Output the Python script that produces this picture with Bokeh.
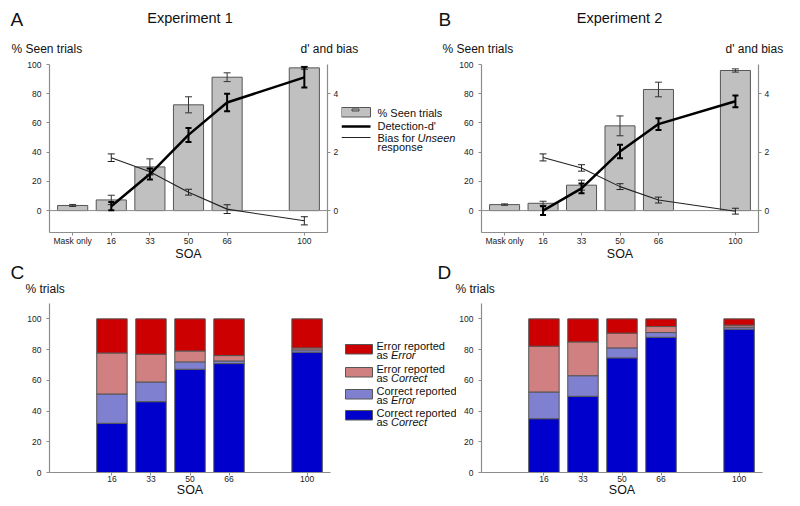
from bokeh.plotting import figure
from bokeh.models import (Range1d, LinearAxis, FixedTicker, ColumnDataSource, Whisker, TeeHead, Span)
from bokeh.core.properties import value
from bokeh.layouts import row, column
from bokeh.embed import file_html
from bokeh.resources import INLINE

FONT = "Liberation Sans"

# ---------------- data ----------------
soa_labels = ["Mask only", "16", "33", "50", "66", "100"]

# Experiment 1 (% seen for all SOAs incl. mask only; d' and bias for SOA 16..100)
exp1_seen = [3.5, 7.3, 29.9, 72.4, 91.3, 97.7]
exp1_seen_err = [0.7, 3.2, 5.5, 5.5, 3.0, 1.0]
exp1_dprime = [0.15, 1.25, 2.59, 3.70, 4.56]
exp1_dprime_err = [0.14, 0.19, 0.24, 0.30, 0.35]
exp1_bias = [1.81, 1.33, 0.63, 0.05, -0.35]
exp1_bias_err = [0.13, 0.10, 0.10, 0.15, 0.14]

# Experiment 2
exp2_seen = [4.1, 5.0, 17.4, 58.0, 82.9, 95.9]
exp2_seen_err = [0.5, 1.4, 3.4, 6.8, 5.0, 1.1]
exp2_dprime = [0.0, 0.76, 2.02, 2.96, 3.74]
exp2_dprime_err = [0.15, 0.17, 0.23, 0.20, 0.20]
exp2_bias = [1.82, 1.46, 0.82, 0.36, -0.02]
exp2_bias_err = [0.12, 0.11, 0.10, 0.10, 0.10]

# % trials, SOA 16..100 (stacked bottom to top)
stack_keys = ["cc", "ce", "ec", "ee"]
exp1_cc = [32.0, 46.1, 67.2, 70.9, 78.3]
exp1_ce = [19.1, 12.8, 4.8, 1.7, 1.5]
exp1_ec = [26.7, 18.1, 7.1, 3.5, 1.3]
exp1_ee = [22.2, 23.0, 20.9, 23.9, 18.9]
exp2_cc = [35.0, 49.6, 74.6, 88.0, 93.3]
exp2_ce = [17.4, 13.4, 6.5, 3.1, 1.3]
exp2_ec = [29.8, 22.0, 9.6, 3.9, 1.3]
exp2_ee = [17.8, 15.0, 9.3, 5.0, 4.1]

stack_colors = ["#0000cc", "#8080d0", "#d08080", "#cc0000"]

# slot positions on the x axis (gap before the 100 ms SOA)
slots = [i if i < 5 else i + 1 for i in range(len(soa_labels))]

AX = "#8c8c8c"
TXT = "#111111"


def style_axis(ax, tick_out=3, standoff=0):
    ax.axis_line_color = AX
    ax.axis_line_width = 1.2
    ax.major_tick_line_color = AX
    ax.major_tick_out = tick_out
    ax.major_tick_in = 0
    ax.minor_tick_line_color = None
    ax.major_label_text_font = FONT
    ax.major_label_text_font_size = "8.5px"
    ax.major_label_text_color = "#222222"
    ax.major_label_standoff = standoff
    ax.axis_label_text_font = FONT
    ax.axis_label_text_font_size = "12.5px"
    ax.axis_label_text_font_style = "normal"
    ax.axis_label_text_color = TXT
    ax.axis_label_standoff = -2


def clean(p):
    p.grid.visible = False
    p.outline_line_color = None
    p.background_fill_color = "white"
    p.border_fill_color = "white"
    return p


def text_fig(x0, x1, y0, y1):
    """A figure without axes whose frame covers the whole canvas (pixel-like coordinates)."""
    p = figure(width=x1 - x0, height=y1 - y0, title=None, output_backend="svg",
               toolbar_location=None, x_range=Range1d(x0, x1), y_range=Range1d(y1, y0),
               x_axis_location=None, y_axis_location=None, min_border=0)
    p.frame_align = False
    return clean(p)


def txt(p, x, y, s, size, align="left", style="normal"):
    p.text(x=[x], y=[y], text=[s], text_font=value(FONT), text_font_size=value(size),
           text_font_style=value(style), text_align=value(align),
           text_baseline=value("middle"), text_color=TXT)


def plot_fig(width, height, left, right, top, bottom, y_range):
    p = figure(width=width, height=height, title=None, output_backend="svg",
               toolbar_location=None, x_range=Range1d(-0.6, 6.6), y_range=y_range,
               min_border_left=left, min_border_right=right,
               min_border_top=top, min_border_bottom=bottom)
    p.frame_align = False
    return clean(p)


def whisker(p, xs, vals, errs, color, lw, size, range_name=None, level="annotation"):
    src = ColumnDataSource(dict(x=xs, upper=[v + e for v, e in zip(vals, errs)],
                                lower=[v - e for v, e in zip(vals, errs)]))
    w = Whisker(source=src, base="x", upper="upper", lower="lower",
                line_color=color, line_width=lw, level=level,
                upper_head=TeeHead(size=size, line_color=color, line_width=lw),
                lower_head=TeeHead(size=size, line_color=color, line_width=lw))
    if range_name:
        w.y_range_name = range_name
    p.add_layout(w)


H1 = 205   # top plots: 6 + 168 + 31
H2 = 205   # bottom plots: 5 + 169 + 31


def top_panel(width, left, right, seen, seen_err, dp, dp_err, bias, bias_err):
    p = plot_fig(width, H1, left, right, 6, H1 - 6 - 168, Range1d(-15, 100))
    p.extra_y_ranges = {"right": Range1d(-0.75, 5)}
    style_axis(p.xaxis[0], 3, 0)
    p.xaxis.ticker = FixedTicker(ticks=slots)
    p.xaxis.major_label_overrides = {s: l for s, l in zip(slots, soa_labels)}
    p.xaxis.axis_label = "SOA"
    style_axis(p.yaxis[0], 3, 5)
    p.yaxis.ticker = FixedTicker(ticks=[0, 20, 40, 60, 80, 100])
    ax_r = LinearAxis(y_range_name="right", ticker=FixedTicker(ticks=[0, 2, 4]))
    style_axis(ax_r, 3, 3)
    p.add_layout(ax_r, "right")

    p.add_layout(Span(location=0, dimension="width", line_color=AX, line_width=1))
    p.vbar(x=slots, top=seen, width=0.78, fill_color="#c0c0c0",
           line_color="#555555", line_width=1)
    whisker(p, slots, seen, seen_err, "#333333", 1, 7)
    xs = slots[1:]
    p.line(xs, bias, y_range_name="right", line_color="#222222", line_width=1.1, level="overlay")
    whisker(p, xs, bias, bias_err, "#222222", 1, 7, "right", "overlay")
    p.line(xs, dp, y_range_name="right", line_color="black", line_width=2.5, level="overlay")
    whisker(p, xs, dp, dp_err, "black", 2, 6, "right", "overlay")
    return p


def bottom_panel(width, left, right, cc, ce, ec, ee):
    p = plot_fig(width, H2, left, right, 5, H2 - 5 - 169, Range1d(0, 110))
    style_axis(p.xaxis[0], 3, 0)
    p.xaxis.ticker = FixedTicker(ticks=slots[1:])
    p.xaxis.major_label_overrides = {s: l for s, l in zip(slots[1:], soa_labels[1:])}
    p.xaxis.axis_label = "SOA"
    style_axis(p.yaxis[0], 3, 5)
    p.yaxis.ticker = FixedTicker(ticks=[0, 20, 40, 60, 80, 100])
    src = ColumnDataSource(dict(x=slots[1:], cc=cc, ce=ce, ec=ec, ee=ee))
    p.vbar_stack(stack_keys, x="x", width=0.78, source=src, fill_color=stack_colors,
                 line_color="#555555", line_width=1)
    return p


# ---------------- layout (window pixels) ----------------
# row 1 header 0..58, row 1 plots 58..263, row 2 header 263..298, row 2 plots 298..503
hdr1 = text_fig(0, 800, 0, 58)
txt(hdr1, 10, 18.5, "A", "19px")
txt(hdr1, 189.5, 17.5, "Experiment 1", "14.5px", "center")
txt(hdr1, 11, 48, "% Seen trials", "12px")
txt(hdr1, 300, 48, "d' and bias", "12px")
txt(hdr1, 438, 18.5, "B", "19px")
txt(hdr1, 619, 17.5, "Experiment 2", "14.5px", "center")
txt(hdr1, 442, 48, "% Seen trials", "12px")
txt(hdr1, 725, 48, "d' and bias", "12px")

pA = top_panel(341, 49, 11, exp1_seen, exp1_seen_err, exp1_dprime, exp1_dprime_err,
               exp1_bias, exp1_bias_err)
pB = top_panel(344, 23, 42, exp2_seen, exp2_seen_err, exp2_dprime, exp2_dprime_err,
               exp2_bias, exp2_bias_err)

# legend of panels A/B
legA = text_fig(341, 456, 58, 263)
legA.quad(left=[341], right=[370], top=[107], bottom=[116.5], fill_color="#c0c0c0",
          line_color="#555555", line_width=1)
legA.quad(left=[351.5], right=[358.5], top=[108.5], bottom=[110.5], fill_alpha=0,
          line_color="#444444", line_width=1)
legA.line([341, 370], [126, 126], line_color="black", line_width=2.6)
legA.line([341, 370], [137, 137], line_color="#222222", line_width=1.1)
txt(legA, 377, 112, "% Seen trials", "11px")
txt(legA, 377, 125, "Detection-d'", "11px")
txt(legA, 377, 137, "Bias for", "11px")
txt(legA, 417, 137, "Unseen", "11px", style="italic")
txt(legA, 377, 146.5, "response", "11px")

hdr2 = text_fig(0, 800, 263, 298)
txt(hdr2, 10, 271.5, "C", "19px")
txt(hdr2, 25, 288, "% trials", "12px")
txt(hdr2, 437, 271.5, "D", "19px")
txt(hdr2, 455, 288, "% trials", "12px")

pC = bottom_panel(341, 49, 11, exp1_cc, exp1_ce, exp1_ec, exp1_ee)
pD = bottom_panel(344, 23, 38, exp2_cc, exp2_ce, exp2_ec, exp2_ee)

legC = text_fig(341, 456, 298, 503)
legend_rows = [("Error reported", "Error", 3), ("Error reported", "Correct", 2),
               ("Correct reported", "Error", 1), ("Correct reported", "Correct", 0)]
sw_tops = [344, 367, 389, 410]
txt_y = [345, 368, 390, 412]
for (first, second, ci), t, ty in zip(legend_rows, sw_tops, txt_y):
    legC.quad(left=[345], right=[372], top=[t], bottom=[t + 9.5],
              fill_color=stack_colors[ci], line_color="#555555", line_width=1)
    txt(legC, 376, ty, first, "11px")
    txt(legC, 376, ty + 9, "as", "11px")
    txt(legC, 390.5, ty + 9, second, "11px", style="italic")

layout = column(hdr1, row(pA, legA, pB), hdr2, row(pC, legC, pD))
open("out.html", "w").write(file_html(layout, INLINE))
